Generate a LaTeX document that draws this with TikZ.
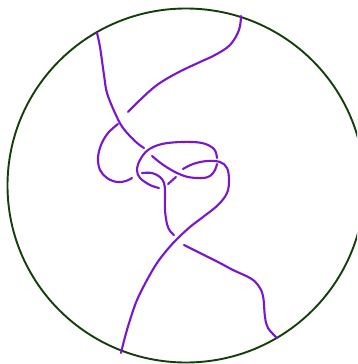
\documentclass[tikz,border=0pt]{standalone}
\definecolor{rim}{RGB}{20,62,10}
\definecolor{knot}{RGB}{122,22,205}
\tikzset{
  strand/.style={draw=knot, line width=2.1pt, line cap=round, line join=round},
  rimline/.style={draw=rim, line width=1.9pt}
}
\begin{document}
\begin{tikzpicture}[x=1pt,y=-1pt]
\useasboundingbox (0,0) rectangle (357,364);
\clip (0,0) rectangle (357,364);
\fill[white] (0,0) rectangle (357,364);
\draw[rimline] (186,185.5) ellipse [x radius=178.5, y radius=177];
% strand from top-left
\draw[strand] plot[smooth, tension=0.6] coordinates {(97,33) (100,47) (104,75) (107,93) (115,113) (123,128) (136,142) (144,148)};
\draw[strand] plot[smooth, tension=0.6] coordinates {(152,156) (162,164) (175,172) (188,177) (202,178) (210,176) (215,170) (217,164)};
\draw[strand] plot[smooth, tension=0.6] coordinates {(217,158) (214,149) (202,143) (182,142) (162,144) (148,150) (140,160) (137,170) (140,178) (150,185) (159,188)};
\draw[strand] plot[smooth, tension=0.6] coordinates {(168,184) (176,177)};
\draw[strand] plot[smooth, tension=0.6] coordinates {(183,169) (193,164) (207,161) (220,162) (227,168) (229,180) (227,193) (218,205) (203,217) (190,227) (177,239) (167,250) (157,263) (147,280) (137,300) (130,320) (125,337) (121,353)};
% strand from top-right
\draw[strand] plot[smooth, tension=0.6] coordinates {(241,16) (239,30) (230,45) (215,55) (200,62) (177,73) (157,85) (140,100) (128,112)};
\draw[strand] plot[smooth, tension=0.6] coordinates {(118,124) (108,133) (101,145) (98,158) (100,170) (107,178) (117,182) (126,181) (132,178)};
\draw[strand] plot[smooth, tension=0.6] coordinates {(142,173) (152,173) (160,177) (164,183) (165,192) (165,210) (167,224) (170,231) (174,235)};
\draw[strand] plot[smooth, tension=0.6] coordinates {(184,245) (200,253) (218,262) (233,270) (250,278) (258,285) (263,296) (265,317) (268,328) (277,338)};
\end{tikzpicture}
\end{document}
